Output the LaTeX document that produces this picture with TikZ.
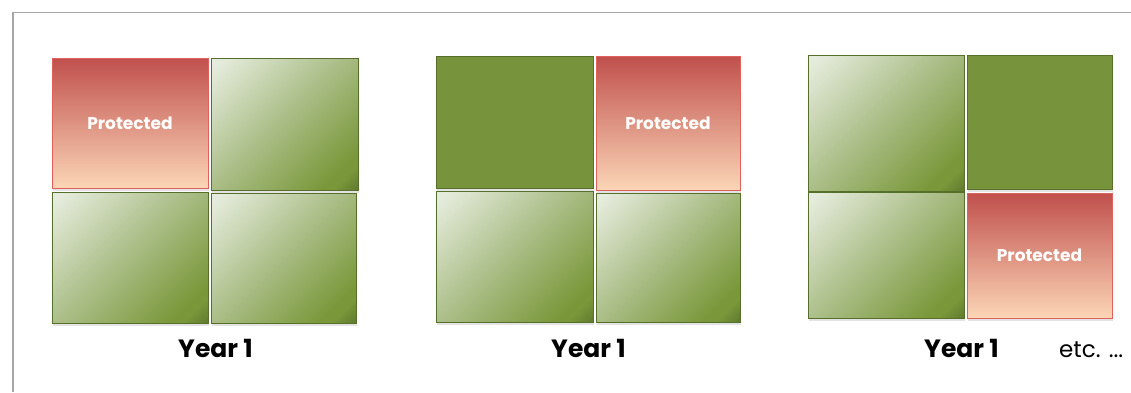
\documentclass[tikz,border=0pt]{standalone}
\usepackage{fontspec}
\setmainfont{Poppins}
\usepackage{tikz}
\usetikzlibrary{shadows}
\definecolor{leafLight}{HTML}{E6ECDD}
\definecolor{leafMid}{HTML}{A7BB82}
\definecolor{leafGreen}{HTML}{7A983A}
\definecolor{leafDark}{HTML}{4E6426}
\definecolor{leafSolid}{HTML}{77933C}
\definecolor{leafEdge}{HTML}{56702C}
\definecolor{redTop}{HTML}{C0504D}
\definecolor{redBottom}{HTML}{FBD5B6}
\definecolor{redEdge}{HTML}{E0615C}
\definecolor{frameGray}{HTML}{A6A6A6}
\pgfdeclarehorizontalshading{leafShade}{100bp}{color(0bp)=(leafLight); color(17bp)=(leafLight); color(50bp)=(leafMid); color(76bp)=(leafGreen); color(79bp)=(leafGreen); color(90bp)=(leafDark); color(100bp)=(leafDark)}
\tikzstyle{cellBase}=[shape = rectangle, inner sep = 0pt, line width = 1pt,
  drop shadow = {shadow xshift = 1pt, shadow yshift = -2.5pt, opacity = 0.22}]
\tikzstyle{fadedCell}=[cellBase, draw = leafEdge, shading = leafShade, shading angle = -45]
\tikzstyle{solidCell}=[cellBase, draw = leafEdge, fill = leafSolid]
\tikzstyle{protectedCell}=[cellBase, draw = redEdge, top color = redTop, bottom color = redBottom,
  text = white, font = \fontsize{17}{20}\selectfont\bfseries]
\tikzstyle{yearLabel}=[anchor = base, inner sep = 0pt, font = \fontsize{25}{29}\selectfont\bfseries]

\begin{document}
\begin{tikzpicture}[x = 1pt, y = -1pt]
\useasboundingbox (0,0) rectangle (1131,392);
\draw[frameGray, line width = 1.5pt] (13,392) -- (13,12.5) -- (1131,12.5);
% first year
\node[protectedCell, minimum width = 156pt, minimum height = 130pt] (p1a) at (130,123) {Protected};
\node[fadedCell, minimum width = 147pt, minimum height = 132pt] (p1b) at (284.5,124) {};
\node[fadedCell, minimum width = 156pt, minimum height = 131pt] (p1c) at (130,257.5) {};
\node[fadedCell, minimum width = 145pt, minimum height = 130pt] (p1d) at (283.5,258) {};
\node[yearLabel] (y1) at (215.5,357) {Year 1};
% second year
\node[solidCell, minimum width = 157pt, minimum height = 132pt] (p2a) at (514.5,122) {};
\node[protectedCell, minimum width = 144pt, minimum height = 134pt] (p2b) at (668,123) {Protected};
\node[fadedCell, minimum width = 157pt, minimum height = 131pt] (p2c) at (514.5,256.5) {};
\node[fadedCell, minimum width = 144pt, minimum height = 129pt] (p2d) at (668,257.5) {};
\node[yearLabel] (y2) at (588.5,357) {Year 1};
% third year
\node[fadedCell, minimum width = 156pt, minimum height = 136pt] (p3a) at (886,123) {};
\node[solidCell, minimum width = 145pt, minimum height = 134pt] (p3b) at (1039.5,122) {};
\node[fadedCell, minimum width = 156pt, minimum height = 126pt] (p3c) at (886,255) {};
\node[protectedCell, minimum width = 145pt, minimum height = 125pt] (p3d) at (1039.5,255.5) {Protected};
\node[yearLabel] (y3) at (961.5,357) {Year 1};
\node[anchor = base west, inner sep = 0pt, font = \fontsize{23}{27}\selectfont] (etc) at (1059,357) {etc. ...};
\end{tikzpicture}
\end{document}
